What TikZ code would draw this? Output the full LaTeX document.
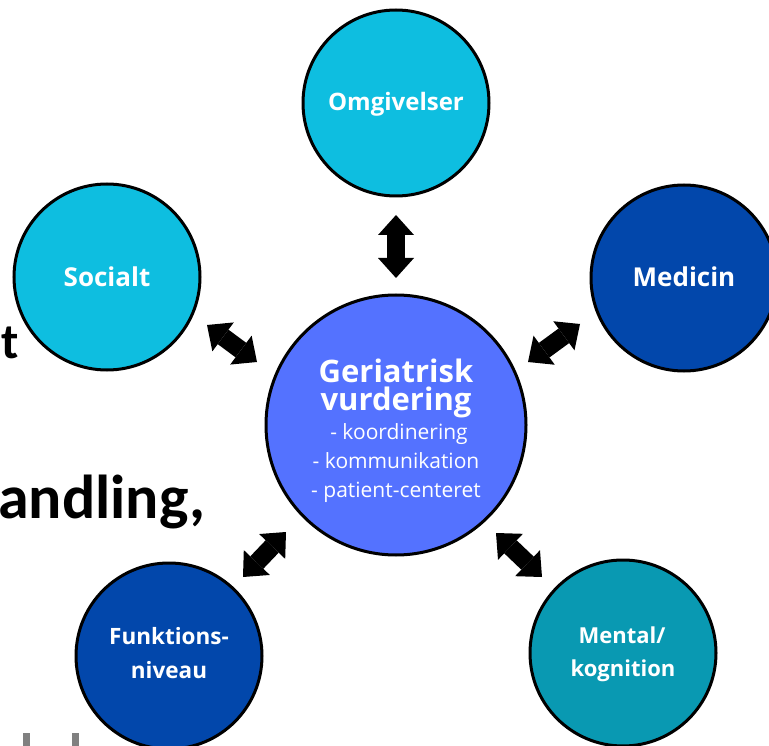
\documentclass[tikz,border=0pt]{standalone}
\usepackage{fontspec}
\setmainfont{Open Sans}
\newfontfamily\carlito{Carlito}
\usetikzlibrary{arrows.meta}
\definecolor{cyanA}{RGB}{14,190,224}
\definecolor{navyA}{RGB}{2,71,171}
\definecolor{tealA}{RGB}{9,153,178}
\definecolor{blueA}{RGB}{84,114,255}
\definecolor{greyA}{RGB}{128,128,128}
\begin{document}
\begin{tikzpicture}[x=1pt,y=-1pt,
  bubble/.style={circle, draw=black, line width=3pt, minimum size=186pt, inner sep=0pt},
  hub/.style={bubble, minimum size=260pt, fill=blueA},
  lbl/.style={text=white, font=\fontsize{24}{24}\selectfont\bfseries, anchor=base, inner sep=0pt},
  biglbl/.style={lbl, font=\fontsize{26}{26}\selectfont\bfseries},
  twolbl/.style={lbl, font=\fontsize{22.5}{22.5}\selectfont\bfseries},
  sublbl/.style={text=white, font=\fontsize{21}{21}\selectfont, anchor=base, inner sep=0pt},
  hublbl/.style={text=white, font=\fontsize{31}{31}\selectfont\bfseries, anchor=base, inner sep=0pt},
  slide/.style={text=black, font=\carlito\fontsize{50}{50}\selectfont\bfseries, inner sep=0pt},
  barrow/.style={line width=18pt, >={Triangle[length=20pt,width=36pt,line width=0pt]}, <->}
]
\clip (0,0) rectangle (769,746);
\fill[white] (0,0) rectangle (769,746);

% background slide text fragments
\node[slide, anchor=base east] (tfrag) at (19,358) {t};
\node[slide, anchor=base west, font=\carlito\fontsize{62}{62}\selectfont\bfseries] (hfrag) at (-2,518) {andling,};
\fill[greyA] (23,733) rectangle (30,746);
\fill[greyA] (72,733) rectangle (79,746);

% circles
\node[hub] (geri) at (396,425) {};
\node[bubble, fill=cyanA] (omg) at (396,103) {};
\node[bubble, fill=cyanA] (soc) at (107,277) {};
\node[bubble, fill=navyA] (med) at (684,278) {};
\node[bubble, fill=navyA] (fun) at (169,656) {};
\node[bubble, fill=tealA] (men) at (623,653) {};

% labels
\node[lbl] (omgt) at (396,111) {Omgivelser};
\node[biglbl] (soct) at (107,287) {Socialt};
\node[biglbl] (medt) at (684,287) {Medicin};
\node[twolbl] (funt1) at (169,644) {Funktions-};
\node[twolbl] (funt2) at (169,678) {niveau};
\node[lbl, font=\fontsize{22}{22}\selectfont\bfseries] (ment1) at (622,643) {Mental/};
\node[lbl, font=\fontsize{22}{22}\selectfont\bfseries] (ment2) at (623,676) {kognition};

\node[hublbl] (g1) at (396,382) {Geriatrisk};
\node[hublbl] (g2) at (396,410) {vurdering};
\node[sublbl] (g3) at (399,439) {- koordinering};
\node[sublbl] (g4) at (396,468) {- kommunikation};
\node[sublbl] (g5) at (396,497) {- patient-centeret};

% arrows
\coordinate (a1) at (396,215); \coordinate (a2) at (396,278);
\coordinate (b1) at (207,325); \coordinate (b2) at (257,362);
\coordinate (c1) at (528,362); \coordinate (c2) at (580,324);
\coordinate (d1) at (243,577); \coordinate (d2) at (286,532);
\coordinate (e1) at (496,533); \coordinate (e2) at (542,577);
\draw[barrow] (a1) -- (a2);
\draw[barrow] (b1) -- (b2);
\draw[barrow] (c1) -- (c2);
\draw[barrow] (d1) -- (d2);
\draw[barrow] (e1) -- (e2);
\end{tikzpicture}
\end{document}
